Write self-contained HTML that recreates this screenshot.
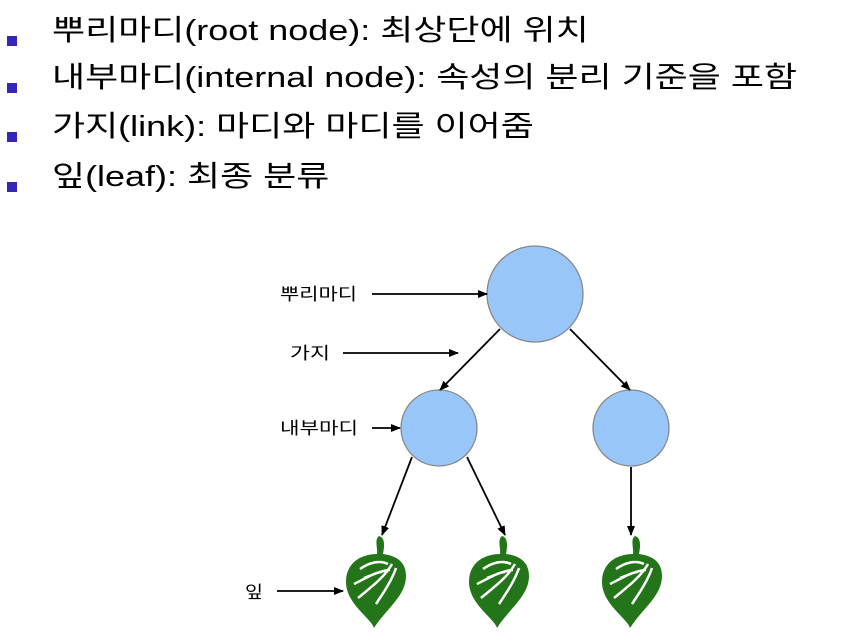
<!DOCTYPE html>
<html><head><meta charset="utf-8"><style>
body{margin:0;width:853px;height:644px;background:#fff;overflow:hidden;position:relative;font-family:"Liberation Sans","Noto Sans CJK KR",sans-serif}
.b{position:absolute;left:52px;font-size:29px;color:#000;white-space:nowrap;line-height:1;transform:scaleX(1.24);transform-origin:0 0}
.sq{position:absolute;left:7px;width:10px;height:10px;background:#3326b8}
</style></head><body>
<div class="sq" style="top:36px"></div><div class="b" style="top:17px">뿌리마디(root node): 최상단에 위치</div>
<div class="sq" style="top:83px"></div><div class="b" style="top:64px">내부마디(internal node): 속성의 분리 기준을 포함</div>
<div class="sq" style="top:132px"></div><div class="b" style="top:113px">가지(link): 마디와 마디를 이어줌</div>
<div class="sq" style="top:182px"></div><div class="b" style="top:163px">잎(leaf): 최종 분류</div>
<svg width="853" height="644" style="position:absolute;left:0;top:0" font-family="Liberation Sans, Noto Sans CJK KR, sans-serif">
<defs><marker id="a" markerWidth="10" markerHeight="8" refX="9" refY="4" orient="auto" markerUnits="userSpaceOnUse"><path d="M0,0L10,4L0,8z" fill="#000"/></marker>
<g id="leaf"><path d="M5,-48 C12,-46 10,-36 9,-30 C25,-28 32,-20 32,-8 C32,12 12,25 0,44 C-2,35 -28,20 -28,-2 C-28,-22 -12,-30 3,-30 C4,-36 0,-44 5,-48Z" fill="#247519"/>
<path d="M-14,-15 C-4,-22 6,-24 14,-20 M-20,0 C-8,-6 2,-12 8,-12 M-16,14 C-4,4 10,-6 18,-20 M2,20 C10,8 18,-4 22,-16 M-10,-6 C0,-10 10,-14 16,-14" stroke="#fff" stroke-width="2.5" fill="none"/></g></defs>
<g fill="#99c6f9" stroke="#888" stroke-width="1.3">
<circle cx="535" cy="294" r="48"/><circle cx="439" cy="428" r="38"/><circle cx="631" cy="428" r="38"/></g>
<g stroke="#000" stroke-width="1.8" marker-end="url(#a)">
<line x1="500" y1="329" x2="440" y2="390"/><line x1="570" y1="329" x2="630" y2="390"/>
<line x1="412" y1="457" x2="382" y2="535"/><line x1="467" y1="457" x2="505" y2="535"/>
<line x1="631" y1="467" x2="631" y2="535"/>
<line x1="372" y1="294" x2="487" y2="294"/><line x1="343" y1="353" x2="458" y2="353"/>
<line x1="372" y1="428" x2="400" y2="428"/><line x1="277" y1="591" x2="343" y2="591"/>
</g>
<use href="#leaf" x="374" y="584"/><use href="#leaf" x="497" y="584"/><use href="#leaf" x="630" y="584"/>
<g font-size="17" fill="#000">
<text x="280" y="300" textLength="77" lengthAdjust="spacingAndGlyphs">뿌리마디</text><text x="290" y="359" textLength="40" lengthAdjust="spacingAndGlyphs">가지</text>
<text x="280" y="434" textLength="78" lengthAdjust="spacingAndGlyphs">내부마디</text><text x="245" y="598" textLength="18" lengthAdjust="spacingAndGlyphs">잎</text></g>
</svg>
</body></html>
